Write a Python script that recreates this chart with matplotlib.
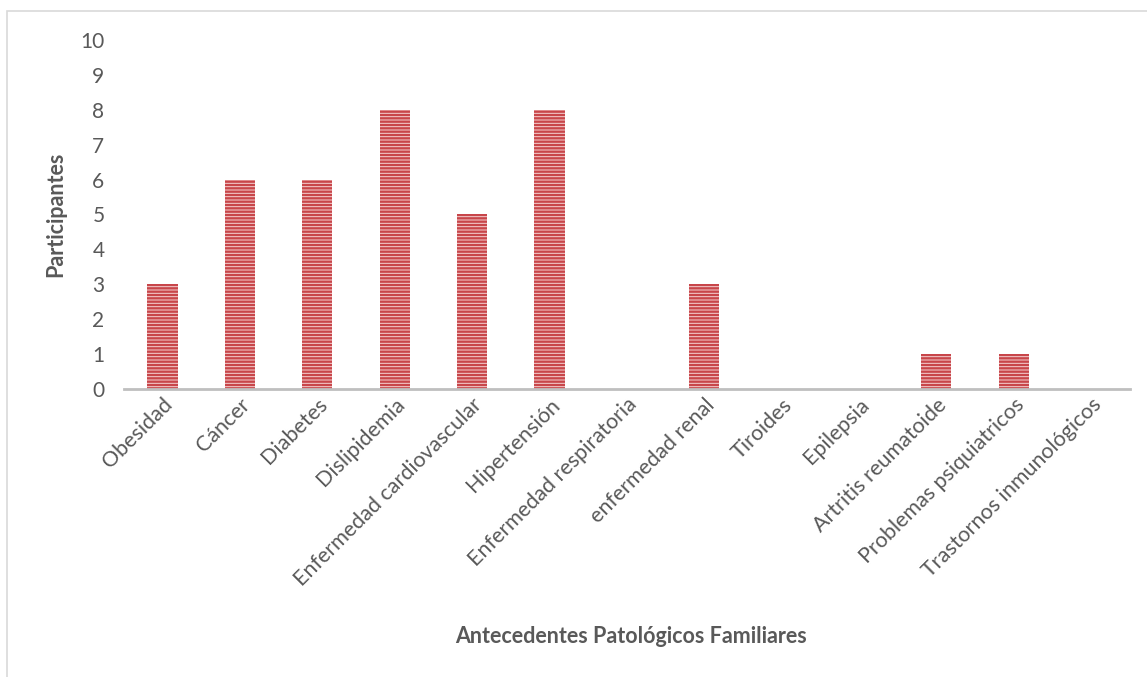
import matplotlib
matplotlib.use("Agg")
import matplotlib.pyplot as plt
from matplotlib.patches import Rectangle

plt.rcParams['font.family'] = ['Lato', 'DejaVu Sans']
plt.rcParams['hatch.linewidth'] = 1.7

categorias = ["Obesidad", "Cáncer", "Diabetes", "Dislipidemia",
              "Enfermedad cardiovascular", "Hipertensión",
              "Enfermedad respiratoria", "enfermedad renal", "Tiroides",
              "Epilepsia", "Artritis reumatoide", "Problemas psiquiatricos",
              "Trastornos inmunológicos"]
participantes = [3, 6, 6, 8, 5, 8, 0, 3, 0, 0, 1, 1, 0]

gris = '#595959'

fig = plt.figure(figsize=(11.47, 6.77), dpi=100)
ax = fig.add_axes([0.108, 0.4254, 0.877, 0.5156])

x = range(len(categorias))
ax.bar(x, participantes, width=0.39, color='#f6d2d2', edgecolor='#c8464a',
       linewidth=0, hatch='-----')

ax.set_xlim(-0.5, len(categorias) - 0.5)
ax.set_ylim(0, 10)
ax.set_yticks(range(0, 11))
ax.set_xticks(list(x))
ax.set_xticklabels(categorias, rotation=45, ha='right', rotation_mode='anchor')
ax.tick_params(axis='both', length=0, colors=gris)
ax.tick_params(axis='y', pad=14, labelsize=15)
ax.tick_params(axis='x', pad=4, labelsize=15.5)

for s in ['top', 'right', 'left']:
    ax.spines[s].set_visible(False)
ax.spines['bottom'].set_color('#bfbfbf')
ax.spines['bottom'].set_linewidth(2)

ax.set_ylabel("Participantes", fontsize=15.5, fontweight='bold', color=gris,
              labelpad=10)
fig.text(0.55, 0.06, "Antecedentes Patológicos Familiares", fontsize=15.5,
         fontweight='bold', color=gris, ha='center', va='center')

# light frame around the chart area
fig.patches.append(Rectangle((7 / 1147, -0.05), 1.0, 1.05 - 11 / 677,
                             transform=fig.transFigure, fill=False,
                             edgecolor='#d9d9d9', linewidth=1.2))

fig.savefig("out.png", dpi=100)
